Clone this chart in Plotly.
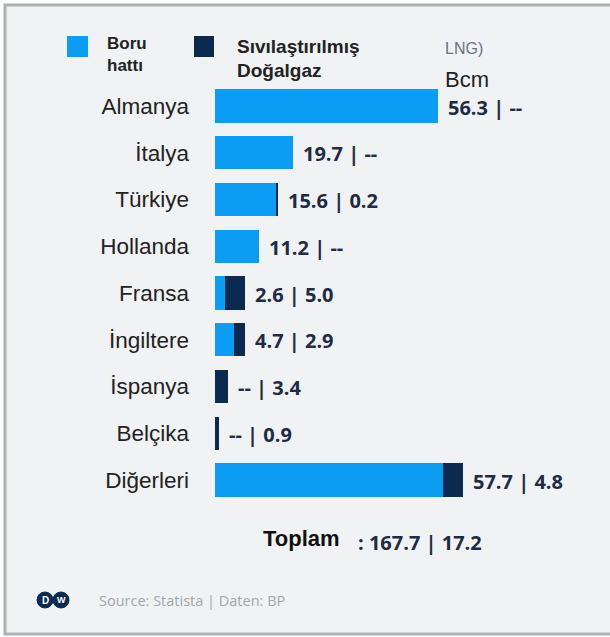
import plotly.graph_objects as go

categories = ["Almanya", "İtalya", "Türkiye", "Hollanda", "Fransa", "İngiltere", "İspanya", "Belçika", "Diğerleri"]
pipeline = [56.3, 19.7, 15.6, 11.2, 2.6, 4.7, None, None, 57.7]
lng = [None, None, 0.2, None, 5.0, 2.9, 3.4, 0.9, 4.8]
total_pipeline = 167.7
total_lng = 17.2

LIGHT = "#0b9df4"
DARK = "#0b2a4f"
LABEL = "#1d2b44"
BG = "#f1f2f4"

W, H = 610, 637


def fmt(v):
    return "--" if v is None else f"{v:.1f}"


def px(x):
    return x / W


def py(y):
    return 1 - y / H


fig = go.Figure()
fig.add_trace(go.Bar(y=categories, x=[v if v is not None else 0 for v in pipeline],
                     orientation="h", marker=dict(color=LIGHT, line=dict(width=0)),
                     name="Boru hattı", showlegend=False, hoverinfo="skip"))
fig.add_trace(go.Bar(y=categories, x=[v if v is not None else 0 for v in lng],
                     orientation="h", marker=dict(color=DARK, line=dict(width=0)),
                     name="LNG", showlegend=False, hoverinfo="skip"))

annotations = []
for c, p, l in zip(categories, pipeline, lng):
    tot = (p or 0) + (l or 0)
    annotations.append(dict(x=tot, y=c, xref="x", yref="y", xanchor="left", yanchor="middle",
                            xshift=8, yshift=-1, showarrow=False,
                            text=f"{fmt(p)} | {fmt(l)}",
                            font=dict(family="Open Sans", size=20, color=LABEL, weight="bold")))


def txt(x, y, t, size, color="#222", bold=False, family="Liberation Sans", anchor="left"):
    annotations.append(dict(x=px(x), y=py(y), xref="paper", yref="paper", xanchor=anchor,
                            yanchor="middle", showarrow=False, text=t,
                            font=dict(family=family, size=size, color=color,
                                      weight="bold" if bold else "normal")))


# legend (manual)
txt(105, 43, "Boru", 17, bold=True)
txt(105, 65, "hattı", 17, bold=True)
txt(235, 46, "Sıvılaştırılmış", 19, bold=True)
txt(235, 70, "Doğalgaz", 19, bold=True)
txt(443, 49, "LNG)", 16, color="#6b7280")
txt(443, 80, "Bcm", 22, color="#222")

txt(261, 538, "Toplam", 22, bold=True, color="#111")
txt(356, 542, f": {total_pipeline:.1f} | {total_lng:.1f}", 20, color=LABEL, bold=True, family="Open Sans")

txt(97, 600, "Source: Statista | Daten: BP", 14.5, color="#a2a6ac", family="Open Sans")
# DW logo letters
txt(45, 600, "D", 10, color="white", bold=True, anchor="center")
txt(61, 600, "W", 9, color="white", bold=True, anchor="center")

shapes = [
    dict(type="rect", xref="paper", yref="paper", x0=px(5), x1=px(620), y0=py(634), y1=py(5),
         fillcolor=BG, line=dict(color="#aeb0b3", width=3), layer="below"),
    dict(type="rect", xref="paper", yref="paper", x0=px(67), x1=px(88), y0=py(57), y1=py(36),
         fillcolor=LIGHT, line=dict(width=0)),
    dict(type="rect", xref="paper", yref="paper", x0=px(194), x1=px(214), y0=py(57), y1=py(36),
         fillcolor=DARK, line=dict(width=0)),
    dict(type="circle", xref="paper", yref="paper", x0=px(37), x1=px(53), y0=py(608), y1=py(592),
         fillcolor=DARK, line=dict(color=DARK, width=1)),
    dict(type="circle", xref="paper", yref="paper", x0=px(53), x1=px(69), y0=py(608), y1=py(592),
         fillcolor=DARK, line=dict(color=DARK, width=1)),
]

slot = 46.75
top = 106 - slot / 2
bottom = top + slot * 9

fig.update_layout(
    width=W, height=H, margin=dict(l=0, r=0, t=0, b=0),
    paper_bgcolor="white", plot_bgcolor="rgba(0,0,0,0)",
    barmode="stack", bargap=0.29,
    xaxis=dict(domain=[px(215), px(600)], range=[0, 385 / 3.96], visible=False, fixedrange=True),
    yaxis=dict(domain=[py(bottom), py(top)], autorange="reversed", showgrid=False, zeroline=False,
               showline=False, ticks="", ticklabelstandoff=25, fixedrange=True,
               tickfont=dict(family="Liberation Sans", size=22.5, color="#222")),
    annotations=annotations, shapes=shapes, showlegend=False,
)

fig.write_html("out.html", config={"displayModeBar": False},
               post_script="document.body.style.margin='0';document.body.style.overflow='hidden';")
